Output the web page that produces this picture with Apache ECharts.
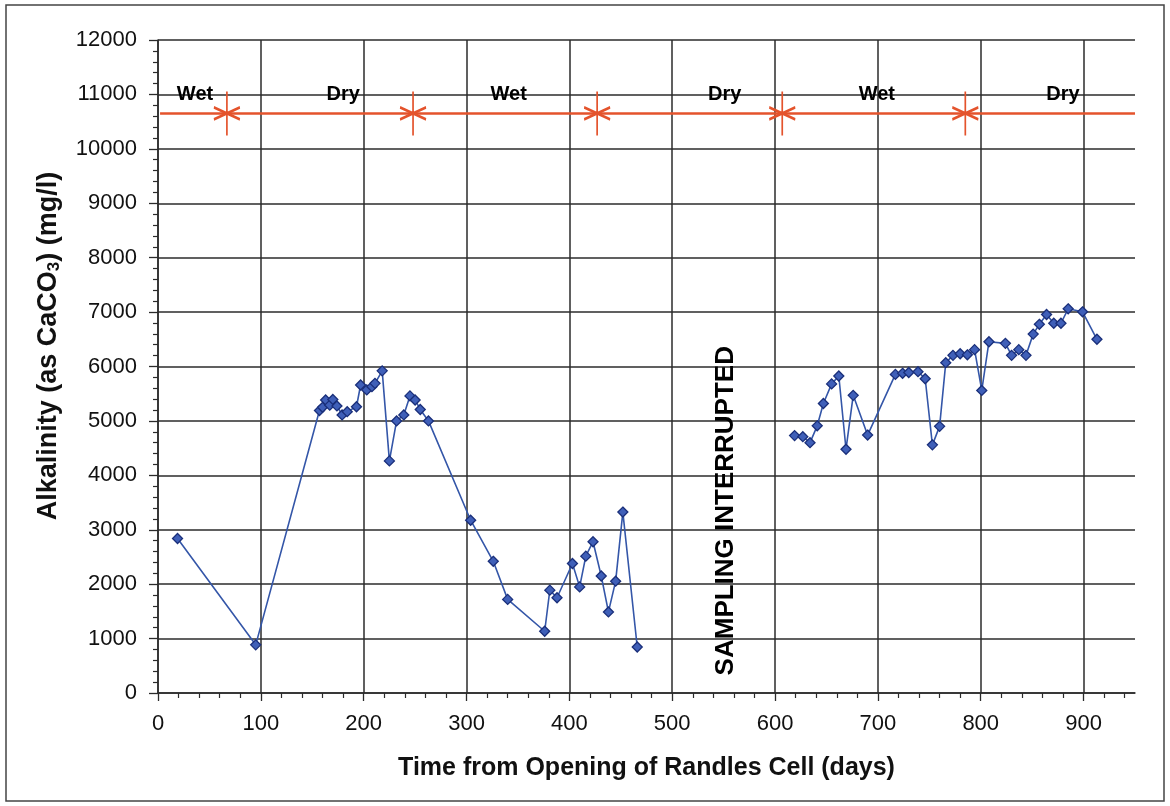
<!DOCTYPE html>
<html>
<head>
<meta charset="utf-8">
<script src="https://cdn.jsdelivr.net/npm/echarts@6/dist/echarts.min.js"></script>
<style>
html,body{margin:0;padding:0;background:#fff;}
#chart{width:1170px;height:806px;}
</style>
</head>
<body>
<div id="chart"></div>
<script>
// ---- data ----
const days1 = [19,95,157,160,163,167,170,174,179,184,193,197,203,208,211,218,225,232,239,245,250,255,263,304,326,340,376,381,388,403,410,416,423,431,438,445,452,466];
const alk1  = [2840,885,5190,5250,5385,5290,5395,5275,5110,5170,5260,5660,5570,5630,5690,5920,4265,5000,5110,5460,5385,5210,5000,3175,2420,1720,1135,1890,1750,2380,1950,2515,2780,2150,1490,2055,3325,845];
const days2 = [619,627,634,641,647,655,662,669,676,690,717,724,730,739,746,753,760,766,773,780,787,794,801,808,824,830,837,844,851,857,864,871,878,885,899,913];
const alk2  = [4730,4710,4600,4910,5320,5680,5825,4480,5470,4740,5855,5875,5890,5905,5775,4560,4900,6070,6205,6235,6215,6310,5560,6455,6425,6205,6310,6205,6595,6775,6955,6795,6795,7060,7005,6500];

const seasonBoundaries = [67,248,427,607,785];
const seasonLineDays = [2,950];
const seasonLineLevel = 10650;
const seasonLabels = ['Wet','Dry','Wet','Dry','Wet','Dry'];
const seasonLabelDays = [36,180,341,551,699,880];
const seasonLabelLevel = 11000;

const noteText = 'SAMPLING INTERRUPTED';
const noteDay = 552;
const noteLevel = 3350;

const xMajorTicks = [0,100,200,300,400,500,600,700,800,900];
const xMinorTicks = [];
for (let v = 20; v < 950; v += 20) { if (v % 100 !== 0) xMinorTicks.push(v); }

const xTitle = 'Time from Opening of Randles Cell (days)';
const yTitleRich = 'Alkalinity (as CaCO{sub|3}) (mg/l)';

// ---- chart ----
const FONT = "'Liberation Sans', Arial, sans-serif";
const RED = '#e4532c';
const GRID = '#2b2b2b';
const chart = echarts.init(document.getElementById('chart'));

const pair = (xs, ys) => xs.map((x, i) => [x, ys[i]]);

const blueSeries = (data) => ({
  type: 'line',
  data: data,
  symbol: 'diamond',
  symbolSize: 10,
  lineStyle: { color: '#3456a8', width: 1.6 },
  itemStyle: { color: '#3f5fb8', borderColor: '#1a2f7a', borderWidth: 1.3 },
  z: 5
});

const textLabelSeries = (data, extra) => ({
  type: 'scatter', data: data,
  symbol: 'circle', symbolSize: 1,
  itemStyle: { color: 'rgba(0,0,0,0)', opacity: 1 },
  label: Object.assign({
    show: true, position: 'inside', formatter: p => p.name,
    fontFamily: FONT, fontWeight: 'bold', color: '#000',
    textBorderWidth: 0, opacity: 1
  }, extra),
  emphasis: { disabled: true },
  z: 7
});

const starPath = 'path://M13,0L13,44M0,16L26,28M0,28L26,16';

chart.setOption({
  animation: false,
  grid: { left: 158, right: 35, top: 40, bottom: 113, containLabel: false },
  xAxis: [{
    type: 'value', min: 0, max: 950,
    name: xTitle, nameLocation: 'middle', nameGap: 63,
    nameTextStyle: { fontFamily: FONT, fontSize: 25, fontWeight: 'bold', color: '#111' },
    axisLine: { show: true, onZero: false, lineStyle: { color: GRID, width: 1.5 } },
    axisTick: { show: true, inside: false, length: 8, customValues: xMajorTicks, lineStyle: { color: GRID, width: 1.3 } },
    axisLabel: { customValues: xMajorTicks, margin: 20, fontFamily: FONT, fontSize: 22, color: '#111' },
    splitLine: { show: true, lineStyle: { color: GRID, width: 1.5 } }
  }, {
    type: 'value', min: 0, max: 950, position: 'bottom',
    axisLine: { show: false },
    axisTick: { show: true, inside: false, length: 5, customValues: xMinorTicks, lineStyle: { color: GRID, width: 1.2 } },
    axisLabel: { show: false },
    splitLine: { show: false }
  }],
  yAxis: {
    type: 'value', min: 0, max: 12000, interval: 1000,
    axisLine: { show: true, lineStyle: { color: GRID, width: 1.5 } },
    axisTick: { show: true, inside: false, length: 9, lineStyle: { color: GRID, width: 1.3 } },
    minorTick: { show: true, splitNumber: 5, length: 5, lineStyle: { color: GRID, width: 1.2 } },
    axisLabel: { margin: 21, fontFamily: FONT, fontSize: 22, color: '#111', formatter: v => String(v) },
    splitLine: { show: true, lineStyle: { color: GRID, width: 1.5 } }
  },
  graphic: [
    { type: 'rect', shape: { x: 6, y: 5, width: 1158, height: 796 },
      style: { fill: 'none', stroke: '#444', lineWidth: 1.5 }, silent: true },
    { type: 'text', x: 49, y: 346, rotation: Math.PI / 2,
      style: {
        text: yTitleRich, align: 'center', verticalAlign: 'middle',
        fontFamily: FONT, fontSize: 27, fontWeight: 'bold', fill: '#111',
        rich: { sub: { fontFamily: FONT, fontSize: 17, fontWeight: 'bold', fill: '#111', padding: [11, 0, 0, 0] } }
      } }
  ],
  series: [
    blueSeries(pair(days1, alk1)),
    blueSeries(pair(days2, alk2)),
    {
      type: 'line', data: seasonLineDays.map(d => [d, seasonLineLevel]),
      symbol: 'none', lineStyle: { color: RED, width: 2.5 }, z: 4
    },
    {
      type: 'scatter', data: seasonBoundaries.map(d => [d, seasonLineLevel]),
      symbol: starPath, symbolSize: [26, 44],
      itemStyle: { color: 'transparent', borderColor: RED, borderWidth: 2.2, opacity: 1 }, z: 6
    },
    textLabelSeries(seasonLabelDays.map((d, i) => ({ value: [d, seasonLabelLevel], name: seasonLabels[i] })),
                    { fontSize: 20 }),
    textLabelSeries([{ value: [noteDay, noteLevel], name: noteText }],
                    { fontSize: 26, rotate: 90 })
  ]
});
</script>
</body>
</html>
